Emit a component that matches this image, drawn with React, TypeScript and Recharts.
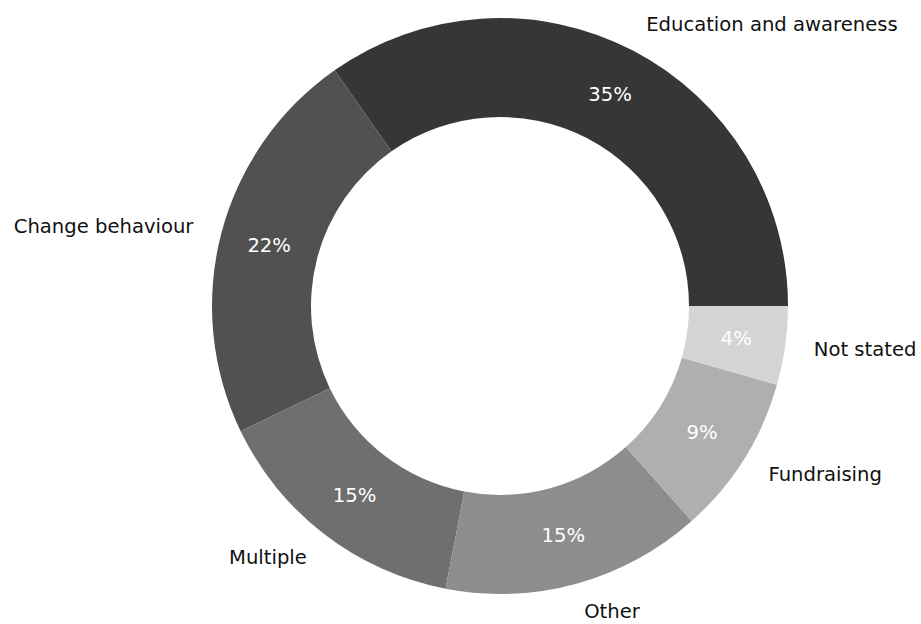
import React from "react";
import { PieChart, Pie, Cell } from "recharts";

const categories = [
  "Education and awareness",
  "Change behaviour",
  "Multiple",
  "Other",
  "Fundraising",
  "Not stated",
];
const shares = [34.7, 22.4, 14.8, 14.6, 9.0, 4.4];
const colors = ["#363636", "#515151", "#6f6f6f", "#8d8d8d", "#afafaf", "#d4d4d4"];

const data = categories.map((name, i) => ({ name, value: shares[i] }));

const RADIAN = Math.PI / 180;
const FONT = "'DejaVu Sans', sans-serif";

const renderLabel = (props: any) => {
  const { cx, cy, midAngle, innerRadius, outerRadius, percent, name } = props;
  const cos = Math.cos(-midAngle * RADIAN);
  const sin = Math.sin(-midAngle * RADIAN);
  const rName = outerRadius * 1.1;
  const rPct = (innerRadius + outerRadius) / 2;
  const nx = cx + rName * cos;
  const ny = cy + rName * sin;
  const px = cx + rPct * cos;
  const py = cy + rPct * sin;
  return (
    <g>
      <text
        x={nx}
        y={ny}
        textAnchor={cos >= 0 ? "start" : "end"}
        dominantBaseline="central"
        fill="#111"
        fontFamily={FONT}
        fontSize={19.6}
      >
        {name}
      </text>
      <text
        x={px}
        y={py}
        textAnchor="middle"
        dominantBaseline="central"
        fill="#ffffff"
        fontFamily={FONT}
        fontSize={19.6}
      >
        {`${Math.round(percent * 100)}%`}
      </text>
    </g>
  );
};

export default function App() {
  return (
    <div style={{ position: "absolute", left: 0, top: 0, width: 921, height: 624, background: "#fff" }}>
      <PieChart width={921} height={624} margin={{ top: 0, right: 0, bottom: 0, left: 0 }}>
        <Pie
          data={data}
          dataKey="value"
          nameKey="name"
          cx={500}
          cy={306}
          innerRadius={189}
          outerRadius={288}
          startAngle={0}
          endAngle={360}
          stroke="none"
          label={renderLabel}
          labelLine={false}
          isAnimationActive={false}
        >
          {data.map((d, i) => (
            <Cell key={d.name} fill={colors[i]} />
          ))}
        </Pie>
      </PieChart>
    </div>
  );
}
